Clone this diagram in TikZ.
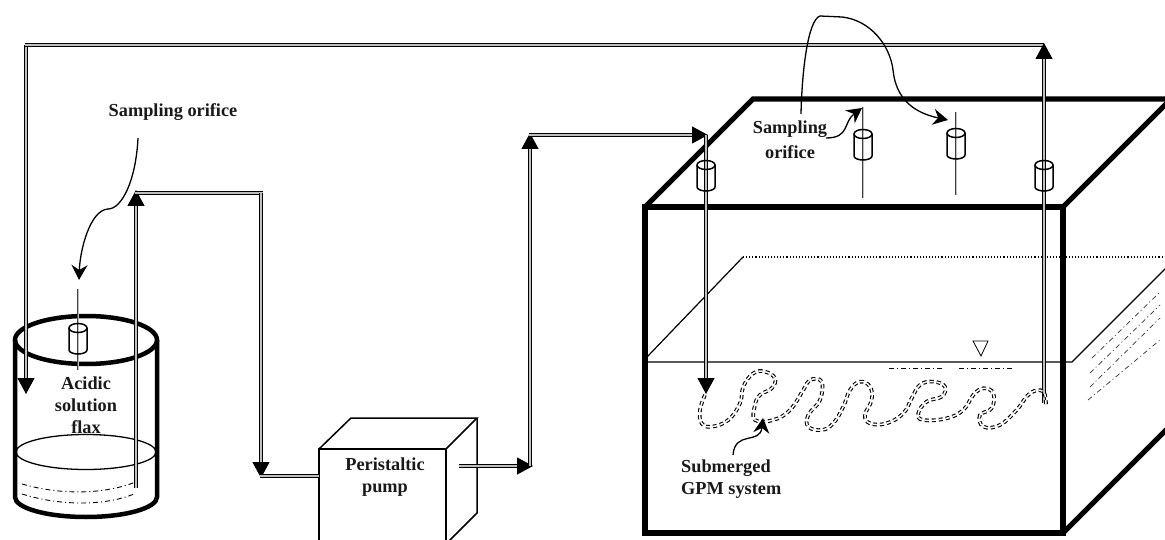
\documentclass[tikz,border=0pt]{standalone}
\usepackage{fontspec}
\setmainfont{Liberation Serif}
\usetikzlibrary{arrows.meta}
\tikzset{
  x=1pt,y=-1pt,
  tube/.style={draw=black,line width=1.2pt,double=gray!50,double distance=1.7pt,line cap=butt},
  tubethin/.style={draw=black!75,line width=0.7pt,double=gray!50,double distance=0.7pt},
  flow/.style={-{Triangle[length=16pt,width=17pt]}},
  lead/.style={line width=1.3pt,-{Stealth[length=15pt,width=16pt,inset=5pt]}},
  label/.style={font=\bfseries\fontsize{18.3}{22}\selectfont,align=center,inner sep=0pt,text=black!90},
  wall/.style={line width=5.2pt,line join=miter},
  ddot/.style={line width=0.9pt,dash pattern=on 5pt off 3pt on 1pt off 3pt},
  coil/.style={draw=black,line width=1.1pt,double=white,double distance=1.5pt,dash pattern=on 4pt off 3pt},
  plug/.style={line width=1.5pt,draw=black}
}
\newcommand{\plug}[2]{%
  \draw[plug] (#1-9,#2+5) -- (#1-9,#2+27) arc[start angle=180,end angle=360,x radius=9,y radius=-4] -- (#1+9,#2+5);
  \draw[plug] (#1,#2+5) ellipse[x radius=9,y radius=4.5];
}
\begin{document}
\begin{tikzpicture}
\useasboundingbox (0,0) rectangle (1165,540);
\clip (0,0) rectangle (1165,540);

% tank
\draw[wall] (645,207) rectangle (1063,533);
\draw[wall] (645,207) -- (753,99) -- (1170,99);
\draw[wall] (1063,207) -- (1170,100);
\draw[wall] (1063,533) -- (1170,426);
\draw[line width=1.2pt] (647,362) -- (1072,362) -- (1170,264);
\draw[line width=1.2pt] (647,357) -- (743,257);
\draw[line width=1.1pt,dotted] (743,257) -- (1165,257);
\draw[line width=0.8pt] (973,341) -- (988,341) -- (981,356) -- cycle;
\draw[ddot,line width=0.7pt] (889,368) -- (944,368);
\draw[ddot,line width=0.7pt] (959,368) -- (1014,368);
\foreach \a/\b/\c/\d in {1088/400/1160/340,1090/387/1160/318,1090/373/1160/305,1092/358/1160/292}
  \draw[ddot,line width=0.7pt,black!80] (\a,\b) -- (\c,\d);

% pump
\draw[line width=1.5pt,line join=miter] (319,545) -- (319,449) -- (446,449) -- (446,545);
\draw[line width=1.5pt,line join=miter] (319,449) -- (351,418) -- (477,418) -- (446,449);
\draw[line width=1.5pt,line join=miter] (477,418) -- (477,513) -- (446,544);

% flask
\draw[line width=4.5pt] (15,340) -- (15,497) arc[start angle=180,end angle=360,x radius=71,y radius=-20] -- (157,340);
\draw[line width=4.5pt] (86,340) ellipse[x radius=71,y radius=24];
\draw[line width=1.3pt] (86,452) ellipse[x radius=70,y radius=17.5];
\draw[ddot] (22,484) .. controls (60,495) and (105,495) .. (138,481);
\draw[ddot] (22,494) .. controls (60,506) and (105,506) .. (134,494);

% coordinates of the tube runs
\coordinate (tl) at (26,45);
\coordinate (tr) at (1044,43);
\coordinate (inA) at (26,394);
\coordinate (outA) at (1044,403);
\coordinate (flaskB) at (136,488);
\coordinate (topB) at (136,190);
\coordinate (cornerB) at (261,193);
\coordinate (downB) at (261,478);
\coordinate (pumpIn) at (319,476);
\coordinate (pumpOut) at (459,466);
\coordinate (elbowC) at (533,466);
\coordinate (riseC) at (530,133);
\coordinate (elbowD) at (708,135);
\coordinate (inD) at (706,394);

% tubes
\draw[tube,flow] (tl) -- (inA);
\draw[tube] (24.5,45) -- (1044,45);
\draw[tube,flow] (outA) -- (tr);
\draw[tube,flow] (flaskB) -- (topB);
\draw[tube] (134.5,193) -- (262.5,193);
\draw[tube,flow] (cornerB) -- (downB);
\draw[tube] (259.5,476) -- (pumpIn);
\draw[tube,flow] (pumpOut) -- (elbowC);
\draw[tube,flow] (530,466) -- (riseC);
\draw[tube,flow] (528.5,135) -- (elbowD);
\draw[tube,flow] (706,135) -- (inD);

% sampling rods
\draw[tubethin] (78,289) -- (78,370);
\draw[tubethin] (863,107) -- (863,198);
\draw[tubethin] (956,112) -- (956,195);
\plug{78}{323}
\plug{706}{160}
\plug{863}{129}
\plug{956}{128}
\plug{1044}{160}

% coil
\begin{scope}[shift={(640,240)},x=0.3333pt,y=-0.3333pt]
\draw[coil] plot[smooth,tension=0.7] coordinates {(195,465) (180,510) (185,550) (215,560) (265,540) (300,490) (310,440) (340,400) (375,395) (405,415) (395,445) (360,465) (345,495) (345,540) (400,540) (450,510) (490,450) (510,420) (545,425) (540,480) (505,525) (505,560) (545,570) (580,550) (610,500) (630,450) (660,425) (690,440) (695,480) (675,525) (690,550) (740,550) (790,520) (815,475) (840,435) (880,425) (915,440) (905,470) (860,485) (835,520) (850,540) (920,535) (970,510) (1000,465) (1030,445) (1060,460) (1055,505) (1020,525) (1030,560) (1080,555) (1130,510) (1170,460) (1210,455) (1218,500)};
\end{scope}

% labels
\node[label] (s1) at (173,112) {Sampling orifice};
\node[label] (flax) at (86,405) {Acidic\\solution\\flax};
\node[label] (pump) at (385,477) {Peristaltic\\pump};
\node[label] (s2) at (790,140) {Sampling\\[3pt]orifice};
\node[label,align=left,anchor=west] (gpm) at (681,479) {Submerged\\GPM system};

% target points of the leaders
\coordinate (t1) at (79,280);
\coordinate (t2) at (862,108);
\coordinate (t3) at (948,120);
\coordinate (t4) at (763,418);

\draw[lead] (138,138) .. controls (136,180) and (122,209) .. (108,209)
  .. controls (90,210) and (80,250) .. (t1);
\draw[lead] (826,138) .. controls (850,138) and (843,122) .. (t2);
\draw[lead] (801,114) .. controls (802,70) and (808,20) .. (820,16)
  -- (842,17) .. controls (870,20) and (890,45) .. (893,70)
  .. controls (896,100) and (915,113) .. (t3);
\draw[lead] (733,455) .. controls (735,430) and (760,445) .. (t4);
\end{tikzpicture}
\end{document}
